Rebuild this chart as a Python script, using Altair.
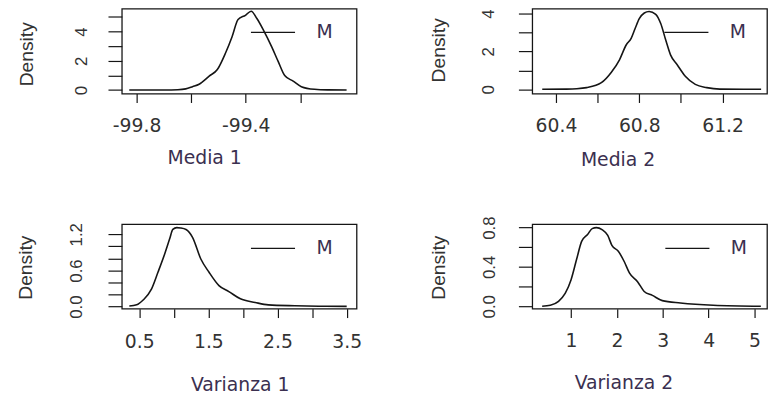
import altair as alt
import pandas as pd

# ---------------- data ----------------
media1_x = [-99.827, -99.70, -99.649, -99.62, -99.595, -99.571, -99.534, -99.504,
            -99.474, -99.45, -99.428, -99.401, -99.380, -99.359, -99.335, -99.305,
            -99.281, -99.257, -99.226, -99.196, -99.148, -99.10, -99.03]
media1_y = [0.0, 0.005, 0.02, 0.08, 0.23, 0.39, 0.95, 1.40, 2.53, 3.65, 4.82, 5.11,
            5.39, 4.89, 4.10, 2.97, 1.96, 0.99, 0.61, 0.23, 0.05, 0.01, 0.0]

media2_x = [60.334, 60.45, 60.50, 60.547, 60.618, 60.666, 60.705, 60.737, 60.761,
            60.780, 60.80, 60.824, 60.847, 60.879, 60.903, 60.927, 60.95, 60.982,
            61.021, 61.069, 61.124, 61.187, 61.30, 61.385]
media2_y = [0.0, 0.01, 0.03, 0.09, 0.35, 0.90, 1.56, 2.34, 2.69, 3.21, 3.73, 4.03,
            4.11, 3.96, 3.47, 2.60, 1.82, 1.30, 0.69, 0.26, 0.09, 0.01, 0.0, 0.0]

var1_x = [0.357, 0.463, 0.557, 0.677, 0.771, 0.867, 0.939, 0.986, 1.043, 1.10, 1.177,
          1.271, 1.391, 1.51, 1.653, 1.796, 1.963, 2.177, 2.367, 2.749, 3.1, 3.5]
var1_y = [0.01, 0.03, 0.11, 0.29, 0.57, 0.87, 1.12, 1.28, 1.31, 1.305, 1.28, 1.15,
          0.79, 0.57, 0.35, 0.25, 0.13, 0.07, 0.03, 0.015, 0.008, 0.005]

var2_x = [0.369, 0.547, 0.726, 0.871, 1.0, 1.122, 1.23, 1.36, 1.46, 1.553, 1.675, 1.80,
          1.89, 2.03, 2.164, 2.272, 2.45, 2.595, 2.774, 2.99, 3.386, 4.10, 5.14]
var2_y = [0.0, 0.01, 0.05, 0.13, 0.27, 0.48, 0.66, 0.73, 0.79, 0.80, 0.78, 0.72, 0.62,
          0.56, 0.45, 0.34, 0.25, 0.15, 0.11, 0.057, 0.033, 0.01, 0.0]

x_titles = ["Media 1", "Media 2", "Varianza 1", "Varianza 2"]
y_title = "Density"
legend_label = "M"

media1_xticks = [-99.8, -99.6, -99.4, -99.2]
media2_xticks = [60.4, 60.6, 60.8, 61.0, 61.2]
var1_xticks = [0.5, 1.0, 1.5, 2.0, 2.5, 3.0, 3.5]
var2_xticks = [1, 2, 3, 4, 5]
media1_yticks = [0, 1, 2, 3, 4, 5]
media2_yticks = [0, 1, 2, 3, 4]
var1_yticks = [0.0, 0.2, 0.4, 0.6, 0.8, 1.0, 1.2]
var2_yticks = [0.0, 0.2, 0.4, 0.6, 0.8]

# ---------------- style ----------------
W = 237.6
H_TOP = 86.0
H_BOT = 85.5
INK = "#151515"
TXT = "#333333"
TTL = "#3b3050"
FONT = "DejaVu Sans"
ROT = "Liberation Sans"


def fix_minus(expr_cond):
    return f"{expr_cond} ? replace(datum.label, '\u2212', '-') : ''"


def panel(xs, ys, title, xdom, ydom, xticks, yticks, xfmt, yfmt, xcond, ycond,
          height, tx, ty, xlpad, ylpad, ytx, yty, legx, legy):
    df = pd.DataFrame({"x": xs, "y": ys, "s": legend_label})
    xaxis = alt.Axis(
        values=xticks, format=xfmt, labelExpr=fix_minus(xcond),
        domain=False, grid=False, tickSize=9, tickWidth=1.2, tickColor=INK,
        labelFont=FONT, labelFontSize=19, labelColor=TXT, labelPadding=xlpad,
        labelOverlap=False, labelFlush=False, labelBaseline="top",
        title=title, titleFont=FONT, titleFontSize=19, titleFontWeight="normal",
        titleColor=TTL, titleX=tx, titleY=ty, titleAlign="center",
        titleBaseline="alphabetic",
    )
    yaxis = alt.Axis(
        values=yticks, format=yfmt, labelExpr=fix_minus(ycond),
        domain=False, grid=False, tickSize=14, tickWidth=1.2, tickColor=INK,
        labelFont=ROT, labelFontSize=17, labelColor=TXT, labelPadding=ylpad,
        labelAngle=270, labelAlign="center", labelBaseline="middle",
        labelOverlap=False, labelFlush=False,
        title=y_title, titleFont=ROT, titleFontSize=19.5, titleFontWeight="normal",
        titleColor=TXT, titleAngle=270, titleX=ytx, titleY=yty,
        titleAlign="center", titleBaseline="middle",
    )
    leg = alt.Legend(
        title=None, orient="none", legendX=legx, legendY=legy, padding=0,
        symbolType="stroke", symbolSize=1990, symbolStrokeWidth=1.3, symbolOffset=0,
        labelFont=FONT, labelFontSize=19, labelColor=TTL, labelOffset=21,
    )
    return alt.Chart(df).mark_line(strokeWidth=1.6, interpolate="monotone", clip=True).encode(
        x=alt.X("x:Q", scale=alt.Scale(domain=xdom, nice=False, zero=False), axis=xaxis),
        y=alt.Y("y:Q", scale=alt.Scale(domain=ydom, nice=False, zero=False), axis=yaxis),
        color=alt.Color("s:N", scale=alt.Scale(range=[INK]), legend=leg),
    ).properties(width=W, height=height)


p1 = panel(media1_x, media1_y, x_titles[0], [-99.8543, -98.9934], [-0.243, 5.568],
           media1_xticks, media1_yticks, ".1f", "d",
           "(round(datum.value*10)+998) % 4 == 0", "datum.value % 2 == 0",
           H_TOP, 83.3, 70.7, 14, 26.7, -96.7, 45.7, 130, 1)
p2 = panel(media2_x, media2_y, x_titles[1], [60.2861, 61.4133], [-0.224, 4.26],
           media2_xticks, media2_yticks, ".1f", "d",
           "(round(datum.value*10)-604) % 4 == 0", "datum.value % 2 == 0",
           H_TOP, 86.3, 72.7, 14, 30.4, -95.2, 41.7, 133, 1)
p3 = panel(var1_x, var1_y, x_titles[2], [0.2486, 3.6429], [-0.033, 1.367],
           var1_xticks, var1_yticks, ".1f", ".1f",
           "(round(datum.value*10)-5) % 10 == 0", "round(datum.value*10) % 6 == 0",
           H_BOT, 119.3, 83, 15.5, 31.7, -97.7, 43.5, 130, 1.5)
p4 = panel(var2_x, var2_y, x_titles[3], [0.153, 5.274], [-0.025, 0.835],
           var2_xticks, var2_yticks, "d", ".1f",
           "true", "round(datum.value*10) % 4 == 0",
           H_BOT, 92.3, 80.7, 14.5, 28.7, -95.2, 43.5, 134, 1.5)

chart = alt.concat(
    p1, p2, p3, p4, columns=2, spacing={"row": 132.2, "column": 177.4}, bounds="flush"
).resolve_scale(
    color="independent"
).resolve_legend(
    color="independent"
).configure_view(
    stroke=INK, strokeWidth=1.3
).properties(
    autosize=alt.AutoSizeParams(type="pad"),
    padding={"left": 14.3, "top": 5.3, "right": 0, "bottom": 0},
    background="white",
)

chart.save("out.html", embed_options={"renderer": "svg", "actions": False})
